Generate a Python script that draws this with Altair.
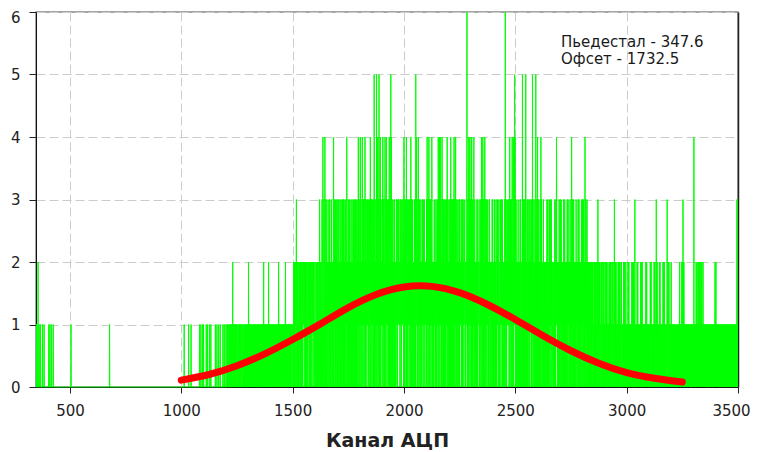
import altair as alt
import pandas as pd

# ---------------- data ----------------
x_ticks = [500, 1000, 1500, 2000, 2500, 3000, 3500]
y_ticks = [0, 1, 2, 3, 4, 5, 6]
x_domain = [347.6, 3500]
y_domain = [0, 6]

first_channel = 348
last_channel = 3500

# sparse part of the spectrum (channels below 1200)
sparse_channels = [350, 352, 357, 362, 368, 377, 384, 405, 410, 417, 425, 505, 678,
                   1013, 1033, 1044, 1082, 1088, 1096, 1100, 1112, 1118, 1127, 1133,
                   1153, 1160, 1168, 1175, 1187, 1193]
sparse_counts = [1, 1, 2, 1, 1, 1, 1, 1, 1, 1, 1, 1, 1,
                 1, 1, 1, 1, 1, 1, 1, 1, 1, 1, 1,
                 1, 1, 1, 1, 1, 1]

# dense part: one digit per channel, starting at channel 1200 (100 channels per row)
dense_start = 1200
dense_rows = [
    "0100001001 1000100010 0101001000 1201001011 0010100101 1000110010 0101001001 1100100110 0010110100 1001010011",
    "1020110010 0101001101 1010010011 0110100100 1001101010 0011010010 1100100101 2010011010 0101100101 1020010110",
    "1101001011 0110110010 1001011101 0110100210 1011001101 1101011010 0101101120 1100110101 0111010110 1010111001",
    "1101120210 2112012310 1201121011 0211120120 1021012112 2102111021 0120211102 1112021101 2011120212 1202112011",
    "1201011020 2102100120 1320210121 0131024101 1302140203 2102302110 0213012301 2012130210 1203402131 0130120231",
    "1203102310 0213201230 2102310203 1320210231 0214302021 3102130210 2031201320 1203120230 2130203102 1023041320",
    "2130421302 1204132031 2312041302 0213213120 3120232104 1302312031 2130215402 3120031502 1340213052 2031402312",
    "1203142031 3120241302 1423021312 0312401230 2514021302 1302112031 2100213320 3021132312 1203213001 2312231203",
    "4130213120 1402312031 2130213203 1420312031 2011203320 1305213420 2130241302 3120213120 0213110312 2031222120",
    "1230421302 2140312031 1302143120 2011203122 1203322012 3120413024 1204213120 2413021302 1203120231 3120413021",
    "2031203120 4120312031 2130241302 1240312031 2103120213 0312211203 2130213120 1223120012 2136021302 1402314031",
    "2130412031 0213402130 1201120332 2031222100 1302132041 2130413021 1204021302 3110213120 1203321012 2021203130",
    "2011203120 1203320112 3120213001 0213120312 2130210021 1203162031 2013122312 1302140213 2031204120 1240312514",
    "1302120312 2011203120 1203320102 2150312031 2031203520 1203110312 2031203312 1203120512 3110212031 2051203120",
    "4031203120 1203140312 2011203100 1202120012 2031103120 1003120312 2031200121 1102120312 2031243120 1201120302",
    "2031103120 1201120312 2031002120 1203120312 2011203120 1204120312 2031201120 1203120012 2031103120 1102120312",
    "2031103120 1204120312 2031102120 1102120210 2011202110 1102120210 2011102120 1302110210 2011102120 1102110210",
    "1102110210 2011002110 1102100210 2011102110 1102130210 2010102110 1102100210 2011002110 1101102010 2011102110",
    "1101002110 2011001010 1102100210 2011002310 1101100210 2010101110 1102100210 2011001010 1101102010 2010101110",
    "1101002110 2011001010 1102100210 1103100210 1101100210 2010101110 1102100210 2011001010 1131102010 2010101110",
    "2011001010 1101001110 1100100100 1011010120 1001101020 2103120210 1001011010 1101001010 1010100100 1001010110",
    "1040100110 1021012010 1120101210 1012100201 1102011010 1010110010 1001101100 1010011010 1100101001 0110101201",
    "1201101010 1101001010 0110100110 1010110010 1001101001 0110100110 1011001010 1101010010 0110101101 1011031011 1",
]

# fitted gaussian curve
fit_channels = [1000, 1125, 1250, 1375, 1500, 1625, 1750, 1875, 2000, 2125,
                2250, 2375, 2500, 2625, 2750, 2875, 3000, 3125, 3250]
fit_values = [0.11, 0.20, 0.34, 0.53, 0.76, 1.01, 1.27, 1.48, 1.60, 1.61,
              1.51, 1.32, 1.08, 0.82, 0.58, 0.38, 0.23, 0.14, 0.08]

annotation_lines = ["Пьедестал - 347.6", "Офсет - 1732.5"]
x_title = "Канал АЦП"

# ---------------- build tables ----------------
counts = {c: 0 for c in range(first_channel, last_channel + 1)}
for c, v in zip(sparse_channels, sparse_counts):
    counts[c] = v
digits = "".join("".join(r.split()) for r in dense_rows)
for i, d in enumerate(digits):
    ch = dense_start + i
    if ch <= last_channel:
        counts[ch] = int(d)

spec_df = pd.DataFrame({"channel": list(counts.keys()), "count": list(counts.values())})
fit_df = pd.DataFrame({"channel": fit_channels, "value": fit_values})
text_df = pd.DataFrame({"t": ["\n".join(annotation_lines)]})

FONT = "DejaVu Sans"
x_scale = alt.Scale(domain=x_domain, nice=False, zero=False)
y_scale = alt.Scale(domain=y_domain, nice=False, zero=True)

x_axis = alt.Axis(values=x_ticks, format="d", title=x_title, grid=True, gridDash=[9, 4],
                  gridColor="#cccccc", gridWidth=1, tickSize=6, labelPadding=10,
                  titlePadding=13, labelFlush=False, labelOverlap=False,
                  labelOffset=alt.condition("datum.value == 3500", alt.value(-7), alt.value(0)))
y_axis = alt.Axis(values=y_ticks, format="d", title=None, grid=True, gridDash=[9, 4],
                  gridColor="#cccccc", gridWidth=1, tickSize=7, labelPadding=9,
                  labelBaseline=alt.condition("datum.value == 6", alt.value("top"), alt.value("middle")),
                  labelOffset=alt.condition("datum.value == 6", alt.value(-2), alt.value(0)))

green = alt.Chart(spec_df).mark_line(color="#00ff00", strokeWidth=1, interpolate="linear").encode(
    x=alt.X("channel:Q", scale=x_scale, axis=x_axis),
    y=alt.Y("count:Q", scale=y_scale, axis=y_axis),
)

red = alt.Chart(fit_df).mark_line(color="#ff0000", strokeWidth=7, interpolate="natural",
                                  strokeCap="round").encode(
    x=alt.X("channel:Q", scale=x_scale, title=x_title),
    y=alt.Y("value:Q", scale=y_scale,
            axis=alt.Axis(orient="right", labels=False, ticks=False, grid=False,
                          domainColor="#222222", domainWidth=1.5, title=None)),
)

text = alt.Chart(text_df).mark_text(align="left", baseline="top", font=FONT, fontSize=15,
                                    lineBreak="\n", lineHeight=17, color="#1a1a1a").encode(
    x=alt.value(525), y=alt.value(23), text="t:N"
)

chart = alt.layer(green, red, text).resolve_axis(y="independent").properties(
    width=702, height=375,
    autosize=alt.AutoSizeParams(type="none"),
    padding={"left": 28, "top": 4, "right": 14, "bottom": 64},
).configure_view(
    stroke="#888888", strokeWidth=1.5
).configure_axis(
    domainColor="#111111", tickColor="#222222", labelColor="#222222",
    labelFont=FONT, labelFontSize=15, titleFont=FONT, titleFontSize=19,
    titleFontWeight="bold", titleColor="#222222"
)

chart.save("out.html", embed_options={"renderer": "svg", "actions": False})
